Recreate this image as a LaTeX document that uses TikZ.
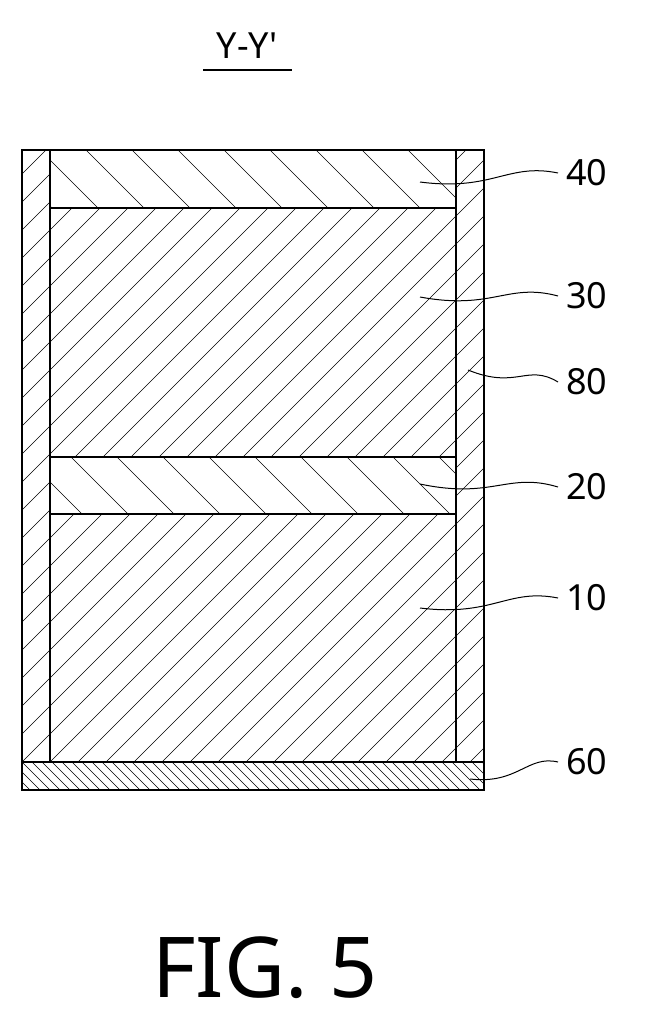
\documentclass[tikz,border=0pt]{standalone}
\usepackage{fontspec}
\setmainfont{Noto Sans}[Ligatures=TeXOff]
\usetikzlibrary{calc}
\tikzset{
  layer/.style={draw,line width=1.6pt},
  lead/.style={line width=1pt},
  numlbl/.style={font=\fontsize{36}{40}\selectfont,anchor=west,inner sep=0pt}
}
% hatch a box: x1,y1,x2,y2,spacing ; \hatchup = lines rising to the right, \hatchdown = falling
\newcommand{\hatchup}[5]{\begin{scope}\clip (#1,#2) rectangle (#3,#4);
  \pgfmathsetmacro{\hs}{-800+#5}
  \foreach \t in {-800,\hs,...,700} \draw[line width=0.5pt] (\t,800) -- (\t+800,0);\end{scope}}
\newcommand{\hatchdown}[5]{\begin{scope}\clip (#1,#2) rectangle (#3,#4);
  \pgfmathsetmacro{\hs}{-800+#5}
  \foreach \t in {-800,\hs,...,700} \draw[line width=0.5pt] (\t,0) -- (\t+800,800);\end{scope}}
\begin{document}
\begin{tikzpicture}[x=1pt,y=-1pt]
  \useasboundingbox (0,0) rectangle (646,1023);
  % title
  \node[font=\fontsize{36}{40}\selectfont] (title) at (247,46) {Y-Y'};
  \draw[line width=1.5pt] (203,70) -- (292,70);
  % hatching
  \hatchup{22}{150}{50}{762}{28}
  \hatchup{456}{150}{484}{762}{28}
  \hatchdown{50}{150}{456}{208}{46}
  \hatchup{50}{208}{456}{457}{28}
  \hatchdown{50}{457}{456}{514}{46}
  \hatchup{50}{514}{456}{762}{28}
  \hatchdown{22}{762}{484}{790}{10}
  % outlines
  \draw[layer] (22,150) rectangle (484,790);
  \draw[layer] (50,150) -- (50,762) (456,150) -- (456,762);
  \draw[layer] (22,762) -- (484,762);
  \draw[layer] (50,208) -- (456,208) (50,457) -- (456,457) (50,514) -- (456,514);
  % labels
  \node[numlbl] (l40) at (566,173) {40};
  \node[numlbl] (l30) at (566,296) {30};
  \node[numlbl] (l80) at (566,382) {80};
  \node[numlbl] (l20) at (566,487) {20};
  \node[numlbl] (l10) at (566,598) {10};
  \node[numlbl] (l60) at (566,762) {60};
  \coordinate (p40) at (420,182);
  \coordinate (p30) at (420,297);
  \coordinate (p80) at (468,370);
  \coordinate (p20) at (420,484);
  \coordinate (p10) at (420,608);
  \coordinate (p60) at (470,779);
  \foreach \n in {40,30,80,20,10,60}
    \draw[lead] (p\n) .. controls ($(p\n)!0.5!(l\n.west)+(0,14)$) and ($(p\n)!0.6!(l\n.west)+(0,-14)$) .. ([xshift=-8pt]l\n.west);
  \node[font=\fontsize{84}{90}\selectfont] (fig) at (265,968) {FIG. 5};
\end{tikzpicture}
\end{document}
